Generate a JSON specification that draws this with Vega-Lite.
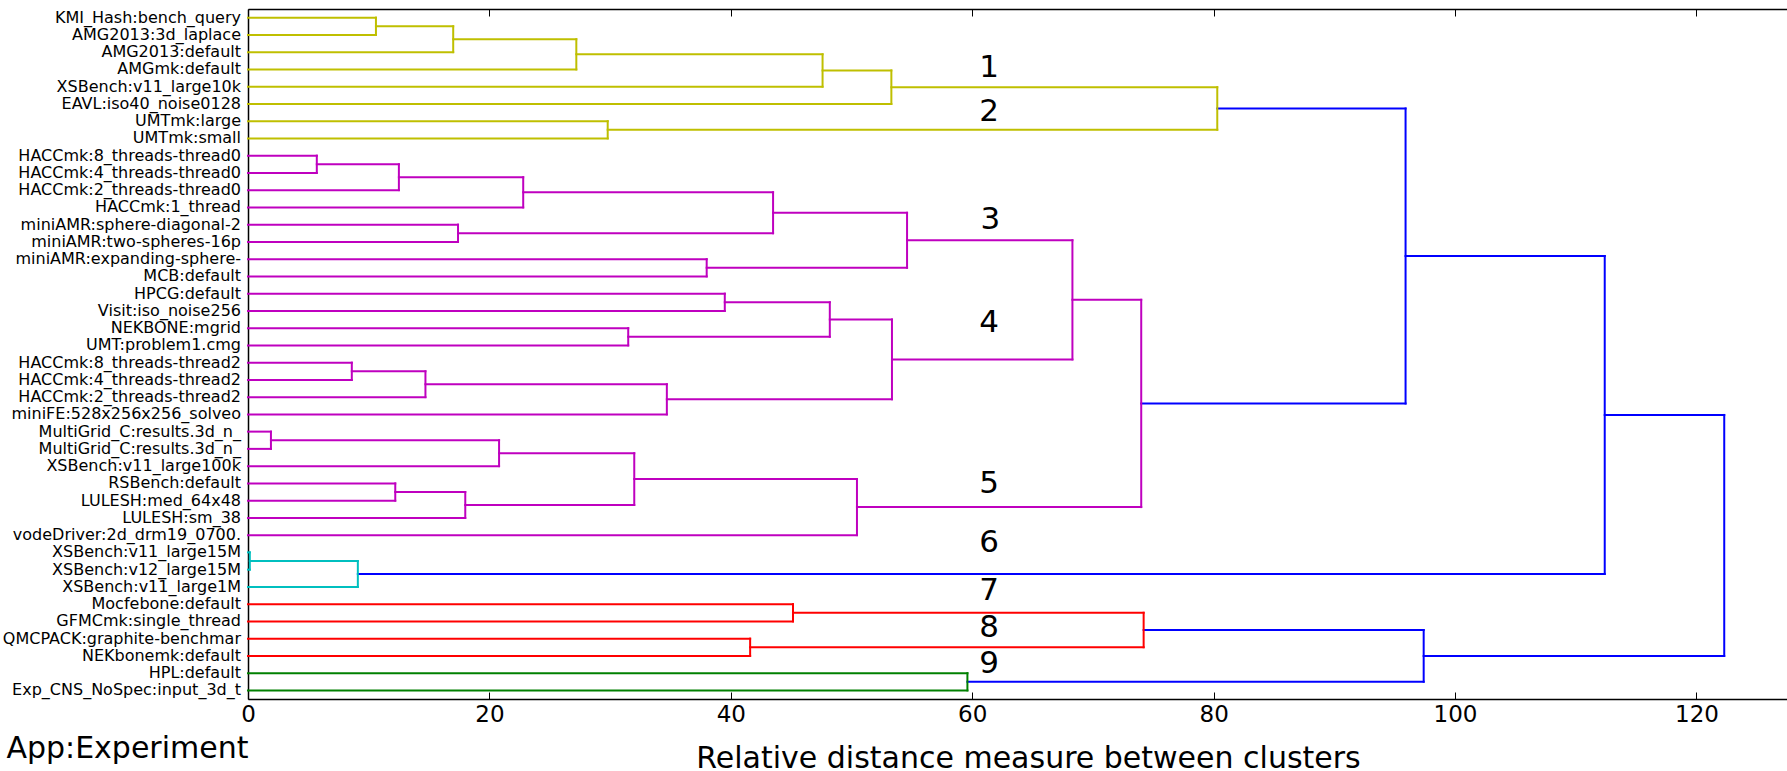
{
  "$schema": "https://vega.github.io/schema/vega-lite/v6.json",
  "width": 1539,
  "height": 690,
  "autosize": {"type": "none"},
  "padding": {"left": 248, "top": 9, "right": 0, "bottom": 72},
  "background": "white",
  "config": {
    "view": {"stroke": null},
    "font": "DejaVu Sans",
    "text": {"font": "DejaVu Sans"}
  },
  "datasets": {
    "links": [
      {"id": "L1", "group": "c12", "yl": 5, "xl": 0, "yr": 15, "xr": 0, "h": 10.6},
      {"id": "L2", "group": "c12", "yl": 10, "xl": 10.6, "yr": 25, "xr": 0, "h": 17.0},
      {"id": "L3", "group": "c12", "yl": 17.5, "xl": 17.0, "yr": 35, "xr": 0, "h": 27.2},
      {"id": "L4", "group": "c12", "yl": 26.25, "xl": 27.2, "yr": 45, "xr": 0, "h": 47.6},
      {"id": "L5", "group": "c12", "yl": 35.625, "xl": 47.6, "yr": 55, "xr": 0, "h": 53.3},
      {"id": "L6", "group": "c12", "yl": 65, "xl": 0, "yr": 75, "xr": 0, "h": 29.8},
      {"id": "L7", "group": "c12", "yl": 45.3125, "xl": 53.3, "yr": 70, "xr": 29.8, "h": 80.3},
      {"id": "P1", "group": "c345", "yl": 85, "xl": 0, "yr": 95, "xr": 0, "h": 5.7},
      {"id": "P2", "group": "c345", "yl": 90, "xl": 5.7, "yr": 105, "xr": 0, "h": 12.5},
      {"id": "P3", "group": "c345", "yl": 97.5, "xl": 12.5, "yr": 115, "xr": 0, "h": 22.8},
      {"id": "P4", "group": "c345", "yl": 125, "xl": 0, "yr": 135, "xr": 0, "h": 17.4},
      {"id": "P5", "group": "c345", "yl": 106.25, "xl": 22.8, "yr": 130, "xr": 17.4, "h": 43.5},
      {"id": "P6", "group": "c345", "yl": 145, "xl": 0, "yr": 155, "xr": 0, "h": 38.0},
      {"id": "P7", "group": "c345", "yl": 118.125, "xl": 43.5, "yr": 150, "xr": 38.0, "h": 54.6},
      {"id": "P8", "group": "c345", "yl": 165, "xl": 0, "yr": 175, "xr": 0, "h": 39.5},
      {"id": "P9", "group": "c345", "yl": 185, "xl": 0, "yr": 195, "xr": 0, "h": 31.5},
      {"id": "P10", "group": "c345", "yl": 170, "xl": 39.5, "yr": 190, "xr": 31.5, "h": 48.2},
      {"id": "P11", "group": "c345", "yl": 205, "xl": 0, "yr": 215, "xr": 0, "h": 8.6},
      {"id": "P12", "group": "c345", "yl": 210, "xl": 8.6, "yr": 225, "xr": 0, "h": 14.7},
      {"id": "P13", "group": "c345", "yl": 217.5, "xl": 14.7, "yr": 235, "xr": 0, "h": 34.7},
      {"id": "P14", "group": "c345", "yl": 180, "xl": 48.2, "yr": 226.25, "xr": 34.7, "h": 53.35},
      {"id": "P15", "group": "c345", "yl": 134.0625, "xl": 54.6, "yr": 203.125, "xr": 53.35, "h": 68.3},
      {"id": "P16", "group": "c345", "yl": 245, "xl": 0, "yr": 255, "xr": 0, "h": 1.9},
      {"id": "P17", "group": "c345", "yl": 250, "xl": 1.9, "yr": 265, "xr": 0, "h": 20.8},
      {"id": "P18", "group": "c345", "yl": 275, "xl": 0, "yr": 285, "xr": 0, "h": 12.2},
      {"id": "P19", "group": "c345", "yl": 280, "xl": 12.2, "yr": 295, "xr": 0, "h": 18.0},
      {"id": "P20", "group": "c345", "yl": 257.5, "xl": 20.8, "yr": 287.5, "xr": 18.0, "h": 32.0},
      {"id": "P21", "group": "c345", "yl": 272.5, "xl": 32.0, "yr": 305, "xr": 0, "h": 50.45},
      {"id": "P22", "group": "c345", "yl": 168.59375, "xl": 68.3, "yr": 288.75, "xr": 50.45, "h": 74.0},
      {"id": "B1", "group": "above", "yl": 57.65625, "xl": 80.3, "yr": 228.671875, "xr": 74.0, "h": 95.9},
      {"id": "C1", "group": "c6", "yl": 315, "xl": 0, "yr": 325, "xr": 0, "h": 0.15},
      {"id": "C2", "group": "c6", "yl": 320, "xl": 0.15, "yr": 335, "xr": 0, "h": 9.1},
      {"id": "B2", "group": "above", "yl": 143.1640625, "xl": 95.9, "yr": 327.5, "xr": 9.1, "h": 112.4},
      {"id": "R1", "group": "c78", "yl": 345, "xl": 0, "yr": 355, "xr": 0, "h": 45.15},
      {"id": "R2", "group": "c78", "yl": 365, "xl": 0, "yr": 375, "xr": 0, "h": 41.6},
      {"id": "R3", "group": "c78", "yl": 350, "xl": 45.15, "yr": 370, "xr": 41.6, "h": 74.2},
      {"id": "G1", "group": "c9", "yl": 385, "xl": 0, "yr": 395, "xr": 0, "h": 59.6},
      {"id": "B3", "group": "above", "yl": 360, "xl": 74.2, "yr": 390, "xr": 59.6, "h": 97.4},
      {"id": "B4", "group": "above", "yl": 235.33203125, "xl": 112.4, "yr": 375, "xr": 97.4, "h": 122.3}
    ],
    "leaves": [
      {"pos": 5, "label": "KMI_Hash:bench_query"},
      {"pos": 15, "label": "AMG2013:3d_laplace"},
      {"pos": 25, "label": "AMG2013:default"},
      {"pos": 35, "label": "AMGmk:default"},
      {"pos": 45, "label": "XSBench:v11_large10k"},
      {"pos": 55, "label": "EAVL:iso40_noise0128"},
      {"pos": 65, "label": "UMTmk:large"},
      {"pos": 75, "label": "UMTmk:small"},
      {"pos": 85, "label": "HACCmk:8_threads-thread0"},
      {"pos": 95, "label": "HACCmk:4_threads-thread0"},
      {"pos": 105, "label": "HACCmk:2_threads-thread0"},
      {"pos": 115, "label": "HACCmk:1_thread"},
      {"pos": 125, "label": "miniAMR:sphere-diagonal-2"},
      {"pos": 135, "label": "miniAMR:two-spheres-16p"},
      {"pos": 145, "label": "miniAMR:expanding-sphere-"},
      {"pos": 155, "label": "MCB:default"},
      {"pos": 165, "label": "HPCG:default"},
      {"pos": 175, "label": "Visit:iso_noise256"},
      {"pos": 185, "label": "NEKBONE:mgrid"},
      {"pos": 195, "label": "UMT:problem1.cmg"},
      {"pos": 205, "label": "HACCmk:8_threads-thread2"},
      {"pos": 215, "label": "HACCmk:4_threads-thread2"},
      {"pos": 225, "label": "HACCmk:2_threads-thread2"},
      {"pos": 235, "label": "miniFE:528x256x256_solveo"},
      {"pos": 245, "label": "MultiGrid_C:results.3d_n_"},
      {"pos": 255, "label": "MultiGrid_C:results.3d_n_"},
      {"pos": 265, "label": "XSBench:v11_large100k"},
      {"pos": 275, "label": "RSBench:default"},
      {"pos": 285, "label": "LULESH:med_64x48"},
      {"pos": 295, "label": "LULESH:sm_38"},
      {"pos": 305, "label": "vodeDriver:2d_drm19_0700."},
      {"pos": 315, "label": "XSBench:v11_large15M"},
      {"pos": 325, "label": "XSBench:v12_large15M"},
      {"pos": 335, "label": "XSBench:v11_large1M"},
      {"pos": 345, "label": "Mocfebone:default"},
      {"pos": 355, "label": "GFMCmk:single_thread"},
      {"pos": 365, "label": "QMCPACK:graphite-benchmar"},
      {"pos": 375, "label": "NEKbonemk:default"},
      {"pos": 385, "label": "HPL:default"},
      {"pos": 395, "label": "Exp_CNS_NoSpec:input_3d_t"}
    ],
    "clusters": [
      {"num": "1", "d": 61.4, "pos": 34.2},
      {"num": "2", "d": 61.4, "pos": 59.8},
      {"num": "3", "d": 61.5, "pos": 122.1},
      {"num": "4", "d": 61.4, "pos": 182.3},
      {"num": "5", "d": 61.4, "pos": 275.2},
      {"num": "6", "d": 61.4, "pos": 309.3},
      {"num": "7", "d": 61.4, "pos": 337.2},
      {"num": "8", "d": 61.4, "pos": 358.7},
      {"num": "9", "d": 61.4, "pos": 379.5}
    ]
  },
  "resolve": {"axis": {"x": "independent", "y": "independent"}},
  "layer": [
    {
      "data": {"name": "links"},
      "mark": {"type": "rule", "strokeWidth": 2, "strokeCap": "square"},
      "encoding": {
        "x": {
          "field": "xl", "type": "quantitative",
          "scale": {"domain": [0, 127.5], "nice": false, "zero": false},
          "axis": {
            "orient": "bottom",
            "values": [0, 20, 40, 60, 80, 100, 120],
            "format": "d",
            "grid": false,
            "domainColor": "black", "domainWidth": 1.5,
            "tickColor": "black", "tickWidth": 1, "tickSize": -7,
            "labelFontSize": 23, "labelColor": "black", "labelPadding": 11, "labelFlush": false,
            "title": "Relative distance measure between clusters",
            "titleFontSize": 30, "titleFontWeight": "normal", "titleColor": "black",
            "titleAlign": "center", "titleBaseline": "alphabetic",
            "titleX": 780, "titleY": 68.5
          }
        },
        "x2": {"field": "h"},
        "y": {
          "field": "yl", "type": "quantitative",
          "scale": {"domain": [0, 400], "nice": false, "zero": false, "reverse": true},
          "axis": {
            "orient": "left", "grid": false, "ticks": false, "labels": false,
            "domainColor": "black", "domainWidth": 1.5,
            "title": "App:Experiment",
            "titleFontSize": 30, "titleFontWeight": "normal", "titleColor": "black",
            "titleAngle": 0, "titleAlign": "right", "titleBaseline": "alphabetic",
            "titleX": 0, "titleY": 748
          }
        },
        "color": {
          "field": "group", "type": "nominal", "legend": null,
          "scale": {"domain": ["c12", "c345", "c6", "c78", "c9", "above"], "range": ["#bfbf00", "#bf00bf", "#00bfbf", "#ff0000", "#008000", "#0000ff"]}
        }
      }
    },
    {
      "data": {"name": "links"},
      "mark": {"type": "rule", "strokeWidth": 2, "strokeCap": "square"},
      "encoding": {
        "x": {
          "field": "xr", "type": "quantitative",
          "scale": {"domain": [0, 127.5], "nice": false, "zero": false},
          "axis": {
            "orient": "top",
            "values": [0, 20, 40, 60, 80, 100, 120],
            "grid": false, "labels": false, "title": null,
            "domainColor": "black", "domainWidth": 1.5,
            "tickColor": "black", "tickWidth": 1, "tickSize": -7
          }
        },
        "x2": {"field": "h"},
        "y": {"field": "yr", "type": "quantitative", "scale": {"domain": [0, 400], "nice": false, "zero": false, "reverse": true}, "axis": null},
        "color": {"field": "group", "type": "nominal", "legend": null}
      }
    },
    {
      "data": {"name": "links"},
      "mark": {"type": "rule", "strokeWidth": 2, "strokeCap": "square"},
      "encoding": {
        "x": {"field": "h", "type": "quantitative", "scale": {"domain": [0, 127.5], "nice": false, "zero": false}, "axis": null},
        "y": {"field": "yl", "type": "quantitative", "scale": {"domain": [0, 400], "nice": false, "zero": false, "reverse": true}, "axis": null},
        "y2": {"field": "yr"},
        "color": {"field": "group", "type": "nominal", "legend": null}
      }
    },
    {
      "data": {"name": "leaves"},
      "mark": {"type": "text", "align": "right", "baseline": "middle", "dx": -7, "fontSize": 16, "color": "black"},
      "encoding": {
        "x": {"datum": 0, "type": "quantitative", "scale": {"domain": [0, 127.5], "nice": false, "zero": false}, "axis": null},
        "y": {"field": "pos", "type": "quantitative", "scale": {"domain": [0, 400], "nice": false, "zero": false, "reverse": true}, "axis": null},
        "text": {"field": "label"}
      }
    },
    {
      "data": {"name": "clusters"},
      "mark": {"type": "text", "align": "center", "baseline": "middle", "fontSize": 31, "color": "black"},
      "encoding": {
        "x": {"field": "d", "type": "quantitative", "scale": {"domain": [0, 127.5], "nice": false, "zero": false}, "axis": null},
        "y": {"field": "pos", "type": "quantitative", "scale": {"domain": [0, 400], "nice": false, "zero": false, "reverse": true}, "axis": null},
        "text": {"field": "num"}
      }
    }
  ]
}
